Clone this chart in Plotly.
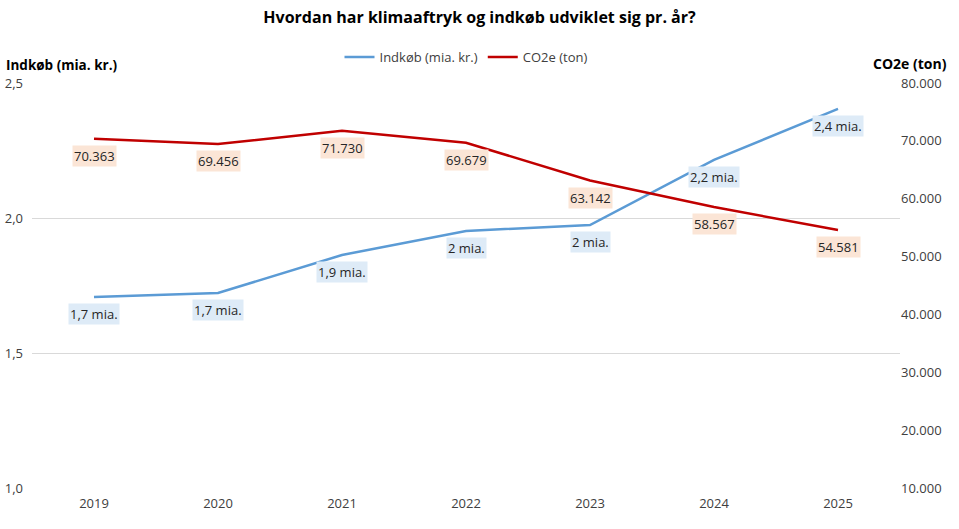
import plotly.graph_objects as go

# -------------------------------
# DATA
# -------------------------------
years = ["2019", "2020", "2021", "2022", "2023", "2024", "2025"]
indkob = [1.707, 1.722, 1.863, 1.952, 1.974, 2.215, 2.404]
indkob_labels = ["1,7 mia.", "1,7 mia.", "1,9 mia.", "2 mia.", "2 mia.", "2,2 mia.", "2,4 mia."]
co2e = [70363, 69456, 71730, 69679, 63142, 58567, 54581]

blue = "#5b9bd5"
red = "#c00000"
txt = "#404040"
font_family = "Open Sans, sans-serif"

fig = go.Figure()

fig.add_trace(go.Scatter(
    x=years, y=indkob, mode="lines", name="Indkøb (mia. kr.)",
    line=dict(color=blue, width=2.5)
))
fig.add_trace(go.Scatter(
    x=years, y=co2e, mode="lines", name="CO2e (ton)", yaxis="y2",
    line=dict(color=red, width=2.5)
))

# -------------------------------
# DATA LABELS (x as category index)
# -------------------------------
annotations = []
for i, (v, lab) in enumerate(zip(indkob, indkob_labels)):
    annotations.append(dict(
        x=i, y=v, xref="x", yref="y", text=lab, showarrow=False,
        yshift=-17, bgcolor="#deebf7", font=dict(size=13, color="#262626"),
        borderpad=1
    ))
for i, v in enumerate(co2e):
    annotations.append(dict(
        x=i, y=v, xref="x", yref="y2", text=f"{v:,}".replace(",", "."),
        showarrow=False, yshift=-17, bgcolor="#fbe5d6",
        font=dict(size=13, color="#262626"), borderpad=1
    ))

# axis titles
annotations.append(dict(
    x=0, y=1.0, xref="paper", yref="paper", xanchor="left", yanchor="middle",
    text="<b>Indkøb (mia. kr.)</b>", showarrow=False, xshift=-28, yshift=18,
    font=dict(size=13.5, color="#000000")
))
annotations.append(dict(
    x=1, y=1.0, xref="paper", yref="paper", xanchor="right", yanchor="middle",
    text="<b>CO2e (ton)</b>", showarrow=False, xshift=49, yshift=20,
    font=dict(size=14, color="#000000")
))

# -------------------------------
# LAYOUT
# -------------------------------
fig.update_layout(
    width=959, height=529,
    margin=dict(l=32, r=59, t=83, b=41, autoexpand=False),
    paper_bgcolor="white", plot_bgcolor="white",
    font=dict(family=font_family, size=13, color=txt),
    separators=",.",
    title=dict(
        text="<b>Hvordan har klimaaftryk og indkøb udviklet sig pr. år?</b>",
        x=0.5, xanchor="center", y=0.968, yanchor="middle",
        font=dict(size=16, color="#000000")
    ),
    showlegend=True,
    legend=dict(
        orientation="h", x=0.5, xanchor="center", y=1.064, yanchor="middle",
        font=dict(size=13, color=txt)
    ),
    xaxis=dict(
        type="category", range=[-0.5, 6.5], showgrid=False, showline=False,
        ticks="", ticklabelstandoff=6, automargin=False,
        tickfont=dict(size=13, color=txt)
    ),
    yaxis=dict(
        range=[1.0, 2.5], dtick=0.5, tickformat=".1f", showgrid=True,
        gridcolor="#d9d9d9", gridwidth=1, zeroline=False,
        ticklabelstandoff=8, automargin=False,
        tickfont=dict(size=13, color=txt)
    ),
    yaxis2=dict(
        range=[10000, 80000], dtick=10000, tickformat=",d", overlaying="y",
        side="right", showgrid=False, zeroline=False, automargin=False,
        tickfont=dict(size=13, color=txt)
    ),
    annotations=annotations,
)

# drop the browser's default 8px body margin so the figure fills the window
fig.write_html(
    "out.html",
    config={"displayModeBar": False},
    post_script="document.body.style.margin='0';"
)
